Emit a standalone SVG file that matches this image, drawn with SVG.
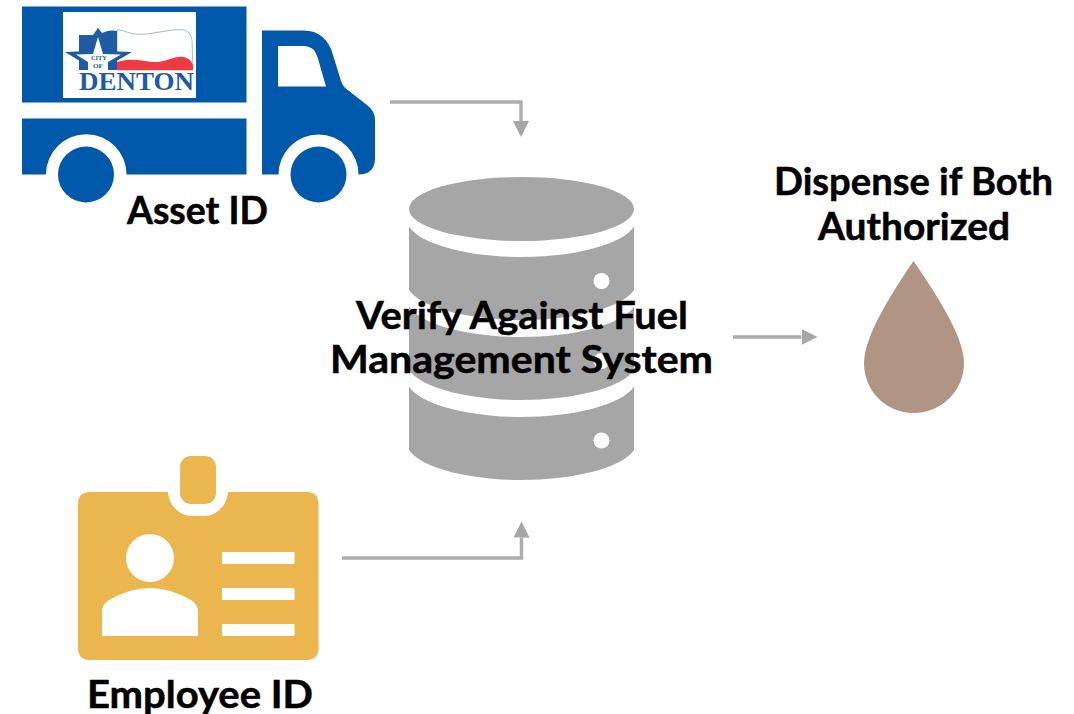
<svg xmlns="http://www.w3.org/2000/svg" width="1074" height="714" viewBox="0 0 1074 714">
<style>
.t{font-family:"Lato","Liberation Sans",sans-serif;font-weight:700;font-size:38px;fill:#000;stroke:#000;stroke-width:.5}
.blue{fill:#0058aa}.db{fill:#a6a6a6}.hole{fill:#fff}.id{fill:#ecb64f}
.c{fill:none;stroke:#adadad;stroke-width:3.4}
.lg{font-family:"Liberation Serif",serif;font-weight:700;fill:#1f5ba5}
</style>
<defs>
<marker id="ah" markerUnits="userSpaceOnUse" markerWidth="16" markerHeight="16" refX="0" refY="8" orient="auto"><path d="M0 0L16 8L0 16Z" fill="#a6a6a6"/></marker>
</defs>
<rect width="1074" height="714" fill="#fff"/>
<g id="asset">
<rect class="blue" x="22" y="6.500" width="224.500" height="96"/>
<path class="blue" d="M22 118.500H246.500V174.500H126.500A40 40 0 0 0 46 174.500H22Z"/>
<circle class="blue" cx="86" cy="174.500" r="28"/>
<path class="blue" fill-rule="evenodd" d="M262 30.500H304C318 30.500 329 39 333 55L341 81Q343 87 349 91L367 105Q375 111 375 120V158Q375 174.500 358.500 174.500A40 40 0 0 0 278.500 174.500H262ZM278 46H304Q314 46 317.500 57L326 86.500H278Z"/>
<circle class="blue" cx="318.500" cy="174.500" r="28"/>
<rect x="63" y="12" width="133" height="86" fill="#fff"/>
<path d="M117 30C122 29 127 33 134 34C150 36 170 28 184 30Q191 32 192 40L193 70H117Z" fill="#fff" stroke="#9dbde0" stroke-width="1"/>
<path d="M117 62C130 58 140 60 152 62C165 63 175 55 184 57Q191 59 193 65V70H117Z" fill="#ee3a43"/>
<path d="M79 35H93L98 28L102 33C108 30 113 30 117 31V70H79Z" fill="#1f5ba5"/>
<path d="M98 28L105 51L132 52L113 63L117 70H79L83 63L65 52L91 51Z" fill="#1f5ba5"/>
<path d="M98 37L103 54L121 54.500L108 62L108 70H88L88 62L76 54.500L93 54Z" fill="#fff"/>
<text class="lg" x="99" y="60" font-size="7" text-anchor="middle" textLength="16" lengthAdjust="spacingAndGlyphs">CITY</text>
<text class="lg" x="98" y="68" font-size="6" text-anchor="middle" textLength="10" lengthAdjust="spacingAndGlyphs">OF</text>
<text class="lg" x="79" y="90" font-size="25" textLength="115" lengthAdjust="spacingAndGlyphs">DENTON</text>
<text class="t" x="127" y="224" textLength="141" lengthAdjust="spacingAndGlyphs">Asset ID</text>
</g>
<g id="employee">
<rect class="id" x="180" y="456" width="36" height="48" rx="11"/>
<path class="id" d="M90 492H168C169 506 180 516 192 516H204C216 516 227 506 228 492H306.500Q318.500 492 318.500 504V648Q318.500 660 306.500 660H90Q78 660 78 648V504Q78 492 90 492Z"/>
<circle class="hole" cx="150" cy="558" r="24"/>
<path class="hole" d="M102 636V612Q102 604 109 600Q130 588 150 588Q170 588 191 600Q198 604 198 612V636Z"/>
<rect class="hole" x="222" y="552" width="72.500" height="12"/>
<rect class="hole" x="222" y="588" width="72.500" height="12"/>
<rect class="hole" x="222" y="624" width="72.500" height="12"/>
<text class="t" x="87" y="708" textLength="226" lengthAdjust="spacingAndGlyphs">Employee ID</text>
</g>
<g id="fms">
<ellipse class="db" cx="521.500" cy="209" rx="112.500" ry="32"/>
<path class="db" d="M409 226.500C421 245 470 257 521.500 257C573 257 622 245 634 226.500V290C622 308 573 320 521.500 320C470 320 421 308 409 290Z"/>
<path class="db" d="M409 306.500C421 325 470 337 521.500 337C573 337 622 325 634 306.500V370C622 388 573 400 521.500 400C470 400 421 388 409 370Z"/>
<path class="db" d="M409 386.500C421 405 470 417 521.500 417C573 417 622 405 634 386.500V450C622 468 573 480 521.500 480C470 480 421 468 409 450Z"/>
<circle class="hole" cx="601.500" cy="281" r="8"/>
<circle class="hole" cx="601.500" cy="361" r="8"/>
<circle class="hole" cx="601.500" cy="440.500" r="8"/>
<text class="t" x="356" y="329" textLength="332" lengthAdjust="spacingAndGlyphs">Verify Against Fuel</text>
<text class="t" x="330" y="373" textLength="383" lengthAdjust="spacingAndGlyphs">Management System</text>
</g>
<g id="dispense">
<path fill="#b09584" d="M913.500 261C895 288 864 335 864 363C864 391 886 413 913.500 413C941 413 964 391 964 363C964 335 932 288 913.500 261Z"/>
<text class="t" x="774" y="195" textLength="279" lengthAdjust="spacingAndGlyphs">Dispense if Both</text>
<text class="t" x="818" y="240" textLength="192" lengthAdjust="spacingAndGlyphs">Authorized</text>
</g>
<g id="connectors">
<path class="c" d="M390 102H521V121" marker-end="url(#ah)"/>
<path class="c" d="M342 558H521.500V537.500" marker-end="url(#ah)"/>
<path class="c" d="M733 337H801.500" marker-end="url(#ah)"/>
</g>
</svg>
